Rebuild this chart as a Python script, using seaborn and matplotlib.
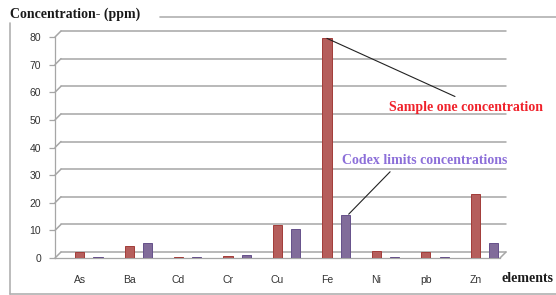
import numpy as np
import pandas as pd
import matplotlib
matplotlib.use("Agg")
import matplotlib.pyplot as plt
from matplotlib.lines import Line2D
import seaborn as sns

# values (ppm)
elements = ["As", "Ba", "Cd", "Cr", "Cu", "Fe", "Ni", "pb", "Zn"]
sample_one = [2.0, 4.5, 0.4, 0.6, 12.0, 79.5, 2.5, 2.0, 23.0]
codex_limits = [0.5, 5.5, 0.4, 1.0, 10.5, 15.5, 0.3, 0.3, 5.5]
series_names = ["Sample one concentration", "Codex limits concentrations"]
y_ticks = list(range(0, 81, 10))

bar_red, bar_purple = "#C4504D", "#8064A2"
edge_red, edge_purple = "#A23C39", "#66508A"
text_red, text_purple = "#F0222B", "#8C6FD9"
grid_col = "#A6A6A6"

df = pd.DataFrame({
    "element": elements * 2,
    "ppm": sample_one + codex_limits,
    "series": [series_names[0]] * len(elements) + [series_names[1]] * len(elements),
})

sns.set_style("white")
plt.rcParams["font.family"] = ["Liberation Sans", "DejaVu Sans"]

W, H = 556, 295
fig = plt.figure(figsize=(W / 100, H / 100), dpi=100)
ax = fig.add_axes([55 / W, 37 / H, 445 / W, 221 / H])

width, gap = 0.74, 0.5
sns.barplot(data=df, x="element", y="ppm", hue="series", hue_order=series_names,
            order=elements, palette=[bar_red, bar_purple], width=width, gap=gap,
            legend=False, ax=ax, zorder=3)

# darker outline for the cylinder look
for bar in ax.patches:
    fc = bar.get_facecolor()
    bar.set_edgecolor(edge_red if fc[0] > 0.6 else edge_purple)
    bar.set_linewidth(0.7)

shift = width / 4  # red bar centre relative to category
n = len(elements)
x0, x1 = -0.5 - shift, n - 0.5 - shift
ax.set_xlim(x0, x1)
ax.set_ylim(0, 80)

ax.set_xticks(np.arange(n) - shift, labels=elements)
ax.set_xticks(np.arange(n + 1) - 0.5 - shift, minor=True)
ax.tick_params(axis="x", which="major", length=0, pad=12, labelsize=7.5, labelcolor="#333333")
ax.tick_params(axis="x", which="minor", length=6, color=grid_col, width=0.9, direction="out")
ax.set_yticks(y_ticks)
ax.tick_params(axis="y", length=4, color=grid_col, width=0.9, pad=6, labelsize=7.5,
               labelcolor="#333333", left=True)
ax.set_xlabel("")
ax.set_ylabel("")
for s in ["top", "right"]:
    ax.spines[s].set_visible(False)
for s in ["left", "bottom"]:
    ax.spines[s].set_color(grid_col)
    ax.spines[s].set_linewidth(0.9)

# pseudo-3D back wall gridlines, offset up/right by a few pixels
dx = 6 * (x1 - x0) / 445
dy = 6 * 80 / 221
for v in y_ticks:
    ax.plot([x0 + dx, x1 + dx], [v + dy, v + dy], color=grid_col, lw=1.1,
            zorder=1, clip_on=False)
    ax.plot([x0, x0 + dx], [v, v + dy], color=grid_col, lw=1.1, zorder=1, clip_on=False)
ax.plot([x1, x1 + dx], [0, dy], color=grid_col, lw=1.1, zorder=1, clip_on=False)

# callouts
ax.annotate(series_names[0], xy=(5 - shift, sample_one[5]),
            xytext=(466 / W, 1 - 108 / H), textcoords="figure fraction",
            ha="center", va="center", color=text_red, fontsize=10, fontweight="bold",
            family="Liberation Serif",
            arrowprops=dict(arrowstyle="-", color="#222222", lw=0.8, relpos=(0.5, 1.0),
                            shrinkA=3, shrinkB=0))
ax.annotate(series_names[1], xy=(5 + shift + 0.05, codex_limits[5]),
            xytext=(425 / W, 1 - 160 / H), textcoords="figure fraction",
            ha="center", va="center", color=text_purple, fontsize=10, fontweight="bold",
            family="Liberation Serif",
            arrowprops=dict(arrowstyle="-", color="#222222", lw=0.8, relpos=(0.32, 0.0),
                            shrinkA=2, shrinkB=1))

fig.text(10 / W, 1 - 14 / H, "Concentration- (ppm)", ha="left", va="center",
         fontsize=10, fontweight="bold", family="Liberation Serif", color="#1a1a1a")
fig.text(553 / W, 1 - 278 / H, "elements", ha="right", va="center",
         fontsize=10, fontweight="bold", family="Liberation Serif", color="#1a1a1a")

# outer frame pieces
fig.add_artist(Line2D([10 / W, 10 / W], [1 - 23 / H, 1 - 294 / H], color="#B0B0B0", lw=1.2))
fig.add_artist(Line2D([10 / W, 1.0], [1 - 294 / H, 1 - 294 / H], color="#B0B0B0", lw=1.2))
fig.add_artist(Line2D([160 / W, 1.0], [1 - 17 / H, 1 - 17 / H], color="#B0B0B0", lw=1.2))

fig.savefig("out.png", dpi=100)
